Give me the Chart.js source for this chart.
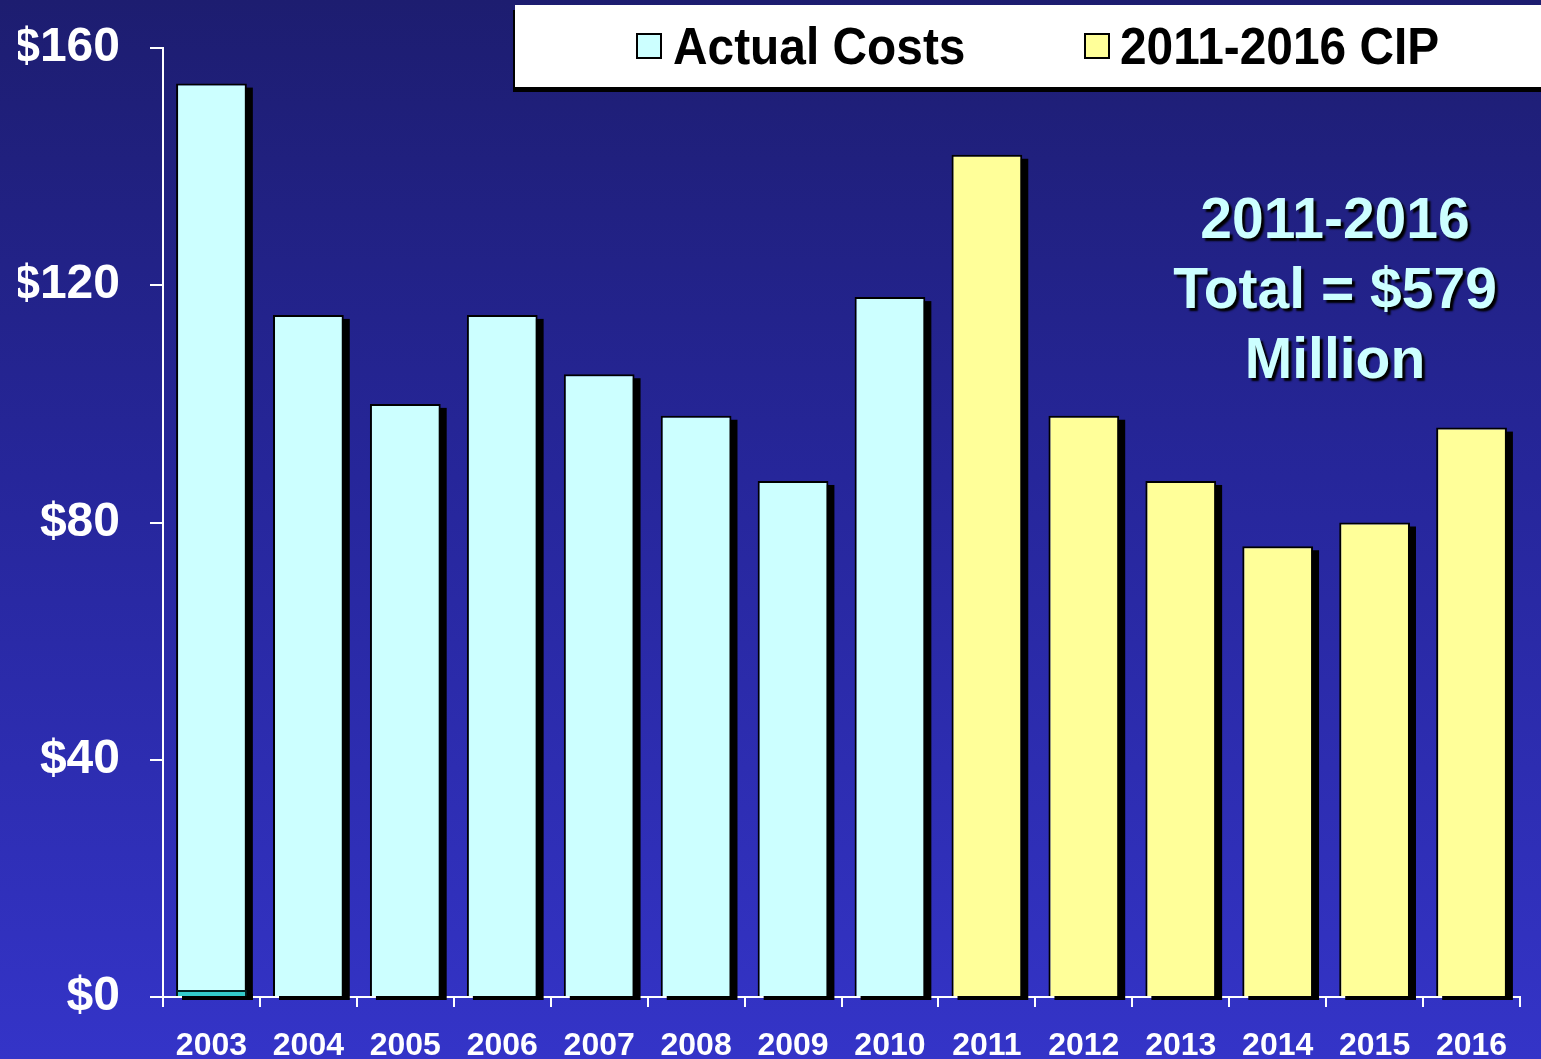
<!DOCTYPE html>
<html>
<head>
<meta charset="utf-8">
<script src="https://cdn.jsdelivr.net/npm/chart.js@4.4.1/dist/chart.umd.min.js"></script>
<style>
  html, body {
    margin: 0;
    padding: 0;
    width: 1541px;
    height: 1059px;
    overflow: hidden;
    background: linear-gradient(to bottom, #1d1d70 0%, #26269a 45%, #3434c8 100%);
    font-family: "Liberation Sans", Arial, sans-serif;
  }
  #wrap { position: relative; width: 1541px; height: 1059px; }
  #legend {
    position: absolute;
    left: 515px; top: 5px;
    width: 1040px; height: 82px;
    background: #fff;
    box-shadow: -2px 5px 0 #000;
  }
  .item {
    position: absolute;
    top: 0;
    height: 82px;
    line-height: 82px;
    font-weight: bold;
    font-size: 52px;
    color: #000;
    white-space: nowrap;
    transform: scaleX(0.92);
    transform-origin: left center;
  }
  .swatch {
    position: absolute;
    top: 28px;
    width: 22px; height: 22px;
    border: 2px solid #000;
  }
  #note {
    position: absolute;
    left: 1135px; top: 183px;
    width: 400px;
    text-align: center;
    color: #ccffff;
    font-weight: bold;
    font-size: 57px;
    line-height: 70px;
    text-shadow: 3px 3px 2px #000;
    white-space: nowrap;
  }
</style>
</head>
<body>
<div id="wrap">
  <canvas id="capital-chart" width="1541" height="1059"></canvas>
  <div id="legend">
    <div class="swatch" style="left:121px;background:#ccffff"></div>
    <div class="item" style="left:158px">Actual Costs</div>
    <div class="swatch" style="left:569px;background:#ffff99"></div>
    <div class="item" style="left:605px">2011-2016 CIP</div>
  </div>
  <div id="note">2011-2016<br>Total = $579<br>Million</div>
</div>
<script>
var years = ['2003', '2004', '2005', '2006', '2007', '2008', '2009', '2010',
             '2011', '2012', '2013', '2014', '2015', '2016'];
var actualCosts = [154, 115, 100, 115, 105, 98, 87, 118, null, null, null, null, null, null];
var cipBudget = [null, null, null, null, null, null, null, null, 142, 98, 87, 76, 80, 96];
var otherCosts = [1.2, null, null, null, null, null, null, null, null, null, null, null, null, null];
var yTicks = [0, 40, 80, 120, 160];

// black drop shadow behind every bar, from the bar elements' own geometry
var barShadow = {
  id: 'barShadow',
  beforeDatasetsDraw: function(chart) {
    var c = chart.ctx;
    c.save();
    c.fillStyle = '#000';
    chart.data.datasets.forEach(function(ds, i) {
      var meta = chart.getDatasetMeta(i);
      meta.data.forEach(function(bar, j) {
        if (ds.data[j] == null) return;
        var p = bar.getProps(['x', 'y', 'base', 'width'], true);
        c.fillRect(p.x - p.width / 2 + 6, p.y + 4, p.width, p.base - p.y);
      });
    });
    c.restore();
  }
};

var capitalChart = new Chart(document.getElementById('capital-chart').getContext('2d'), {
  type: 'bar',
  data: {
    labels: years,
    datasets: [{
      label: 'Actual Costs',
      data: actualCosts,
      backgroundColor: '#ccffff',
      borderColor: '#000',
      borderWidth: 2,
      order: 2
    }, {
      label: '2011-2016 CIP',
      data: cipBudget,
      backgroundColor: '#ffff99',
      borderColor: '#000',
      borderWidth: 2,
      order: 2
    }, {
      label: 'Other',
      data: otherCosts,
      backgroundColor: '#33cccc',
      borderColor: '#002222',
      borderWidth: 2,
      order: 1
    }]
  },
  plugins: [barShadow],
  options: {
    responsive: false,
    animation: false,
    devicePixelRatio: 1,
    layout: {
      padding: { left: 18, top: 48, right: 21, bottom: 0 }
    },
    datasets: {
      bar: { categoryPercentage: 1, barPercentage: 0.73 }
    },
    plugins: {
      legend: { display: false },
      tooltip: { enabled: false }
    },
    scales: {
      x: {
        stacked: true,
        offset: true,
        z: 1,
        afterFit: function(axis) {
          axis.height = 62;
          axis.paddingLeft = 0;
          axis.paddingRight = 0;
        },
        grid: {
          display: true,
          drawOnChartArea: false,
          drawTicks: true,
          tickLength: 10,
          color: '#fff',
          lineWidth: 2
        },
        border: { display: true, color: '#fff', width: 2 },
        ticks: {
          color: '#fff',
          padding: 20,
          maxRotation: 0,
          autoSkip: false,
          font: { family: '"Liberation Sans", Arial, sans-serif', size: 32, weight: 'bold' }
        }
      },
      y: {
        stacked: false,
        min: 0,
        max: 160,
        afterFit: function(axis) {
          axis.width = 145;
          axis.paddingTop = 0;
          axis.paddingBottom = 0;
        },
        afterBuildTicks: function(axis) {
          axis.ticks = yTicks.map(function(v) { return { value: v }; });
        },
        grid: {
          display: true,
          drawOnChartArea: false,
          drawTicks: true,
          tickLength: 13,
          color: '#fff',
          lineWidth: 2
        },
        border: { display: true, color: '#fff', width: 2 },
        ticks: {
          color: '#fff',
          padding: 30,
          callback: function(value) { return '$' + value; },
          font: { family: '"Liberation Sans", Arial, sans-serif', size: 48, weight: 'bold' }
        }
      }
    }
  }
});
</script>
</body>
</html>
